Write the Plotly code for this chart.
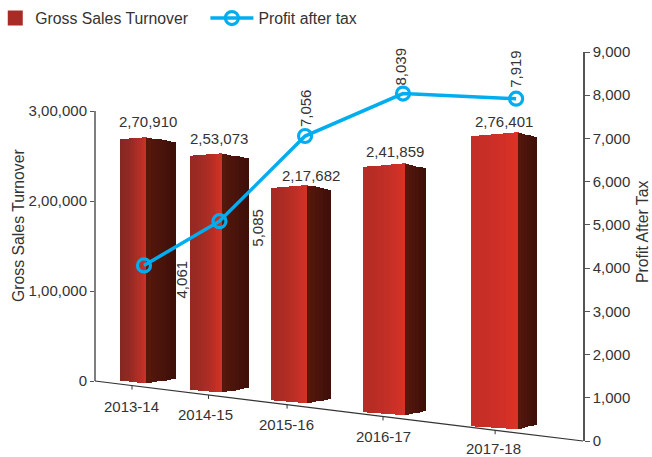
import plotly.graph_objects as go

# ---- data ----
years = ["2013-14", "2014-15", "2015-16", "2016-17", "2017-18"]
gross_sales = [270910, 253073, 217682, 241859, 276401]
profit_after_tax = [4061, 5085, 7056, 8039, 7919]
left_ticks = [0, 100000, 200000, 300000]
left_tick_text = ["0", "1,00,000", "2,00,000", "3,00,000"]
right_ticks = [0, 1000, 2000, 3000, 4000, 5000, 6000, 7000, 8000, 9000]

# ---- style ----
FONT = "Liberation Sans, Arial, sans-serif"
TXT = "#333333"
AXIS = "#555555"
BLUE = "#00aeef"
FS = 15
FS_BIG = 15.8

# ---- canvas and pseudo-3D scale ----
W, H = 652, 457
L, R, T, B = 95, 583, 52, 441          # plot rectangle in page pixels
Y0, Y300 = 381, 111                    # where 0 and 3,00,000 fall on the left axis
V_PER_PX = 300000 / (Y0 - Y300)
FLOOR_SLOPE = (B - Y0) / (R - L)


def depth_x(i):
    """Perspective position of the i-th category along the receding floor."""
    return 144 + 71 * i / (1 - 0.0592 * i)


def drop(px):
    """A vertical distance in page pixels, as left-axis units."""
    return px * V_PER_PX


def floor_value(x):
    return -drop(FLOOR_SLOPE * (x - L))


line_x = [depth_x(i) for i in range(len(years))]
ridge_x = [x + 2.5 for x in line_x]
front_w = [26 + 5.25 * i for i in range(len(years))]
side_w = [29.5 - 3 * i for i in range(len(years))]


def lerp(a, b, t):
    return a + (b - a) * t


def mix(c0, c1, t):
    return "rgb(%d,%d,%d)" % tuple(round(lerp(a, b, t)) for a, b in zip(c0, c1))


fig = go.Figure()

# front faces and side faces are stacks of thin bars, which gives the shading
N_FRONT, N_SIDE = 12, 6
for k in range(N_FRONT + N_SIDE):
    front = k < N_FRONT
    t = (k + 0.5) / N_FRONT if front else (k - N_FRONT + 0.5) / N_SIDE
    xs, widths, tops, bases, colors = [], [], [], [], []
    for i, v in enumerate(gross_sales):
        r = ridge_x[i]
        if front:
            w = front_w[i] / N_FRONT
            x = r - front_w[i] * (1 - t)
            top = v - drop((2 + 0.5 * i) * (1 - t))
            bot = floor_value(r) + drop(4) + drop(2.8 * (1 - t))
            p = i / 4
            c0 = (lerp(134, 196, p), lerp(40, 46, p), lerp(34, 38, p))
            c1 = (lerp(205, 220, p), lerp(50, 50, p), lerp(40, 40, p))
            col = mix(c0, c1, t ** 1.6)
        else:
            w = side_w[i] / N_SIDE
            x = r + side_w[i] * t
            top = v - drop(5.5 * t)
            bot = floor_value(r) + drop(4) + drop(4.5 * t)
            col = mix((88, 24, 12), (60, 15, 8), t)
        xs.append(x)
        widths.append(w + 0.8)
        tops.append(top)
        bases.append(bot)
        colors.append(col)
    fig.add_trace(go.Bar(
        x=xs, y=[a - b for a, b in zip(tops, bases)], base=bases, width=widths,
        marker=dict(color=colors, line=dict(width=0)),
        showlegend=False, hoverinfo="skip",
    ))

# legend entry for the bars
fig.add_trace(go.Bar(
    x=[None], y=[None], name="Gross Sales Turnover", legend="legend",
    marker=dict(color="#a92b26", line=dict(color="#a92b26", width=3)),
))

# profit line on the right axis
fig.add_trace(go.Scatter(
    x=line_x, y=profit_after_tax, yaxis="y2", name="Profit after tax", legend="legend2",
    mode="lines+markers",
    line=dict(color=BLUE, width=3.5),
    marker=dict(symbol="circle-open", size=13, color=BLUE, line=dict(color=BLUE, width=3.2)),
))

annotations = []


def indian(v):
    return f"{v // 100000},{(v % 100000) // 1000:02d},{v % 1000:03d}"


# bar value labels
bar_label_dx = [0, -1, 10, 0, 0]
bar_label_dy = [5, 4, -1, 1, 0]
bar_mid = [ridge_x[i] + (side_w[i] - front_w[i]) / 2 for i in range(5)]
for i, v in enumerate(gross_sales):
    annotations.append(dict(
        x=bar_mid[i], y=v, xref="x", yref="y", text=indian(v),
        showarrow=False, xshift=bar_label_dx[i], yshift=bar_label_dy[i], yanchor="bottom",
        font=dict(family=FONT, size=FS, color=TXT),
    ))

# rotated line labels
line_label_shift = [(37, -14), (38, -6), (0, 28), (-2, 27), (0, 30)]
for i, v in enumerate(profit_after_tax):
    dx, dy = line_label_shift[i]
    annotations.append(dict(
        x=line_x[i], y=v, xref="x", yref="y2", text=f"{v:,}", textangle=-90,
        showarrow=False, xshift=dx, yshift=dy,
        font=dict(family=FONT, size=FS, color=TXT),
    ))

# floor axis tick labels and ticks
tick_x = [x - d for x, d in zip(line_x, [12, 11, 18, 20, 21])]
label_dx = [-1, -3, -1, 0, -2]
label_dy = [20.5, 20, 20, 20, 18]
shapes = [
    dict(type="line", xref="paper", yref="y", x0=0, x1=0, y0=0, y1=300000,
         line=dict(color=AXIS, width=1.5), layer="below"),
    dict(type="line", xref="paper", yref="paper", x0=0, x1=1,
         y0=(B - Y0) / (B - T), y1=0, line=dict(color="#333333", width=1.2), layer="below"),
]
for i, y in enumerate(years):
    x = tick_x[i]
    fv = floor_value(x)
    shapes.append(dict(type="line", xref="x", yref="y", x0=x, x1=x, y0=fv, y1=fv - drop(4),
                       line=dict(color="#333333", width=1), layer="below"))
    annotations.append(dict(
        x=x, y=fv, xref="x", yref="y", text=y, showarrow=False, textangle=0, borderpad=0,
        xshift=label_dx[i], yshift=-label_dy[i],
        font=dict(family=FONT, size=FS, color=TXT),
    ))

# axis titles (page pixels converted to paper fractions)
for px, py, txt in [(18, 226, "Gross Sales Turnover"), (642, 232, "Profit After Tax")]:
    annotations.append(dict(
        x=(px - L) / (R - L), y=(B - py) / (B - T), xref="paper", yref="paper", text=txt,
        textangle=-90, showarrow=False, xanchor="center", yanchor="middle",
        font=dict(family=FONT, size=FS_BIG, color=TXT),
    ))

fig.update_layout(
    width=W, height=H, autosize=False,
    margin=dict(l=L, r=W - R, t=T, b=H - B, pad=0, autoexpand=False),
    paper_bgcolor="white", plot_bgcolor="white",
    barmode="overlay", bargap=0,
    font=dict(family=FONT, size=FS, color=TXT),
    xaxis=dict(range=[L, R], visible=False, fixedrange=True),
    yaxis=dict(
        range=[floor_value(R), (Y0 - T) * V_PER_PX],
        tickmode="array", tickvals=left_ticks, ticktext=left_tick_text,
        ticks="outside", ticklen=4, tickcolor=AXIS, tickwidth=1.2,
        showgrid=False, zeroline=False, showline=False, automargin=False,
        tickfont=dict(family=FONT, size=FS, color=TXT),
    ),
    yaxis2=dict(
        range=[0, 9000], overlaying="y", side="right",
        tickmode="array", tickvals=right_ticks, tickformat=",",
        ticks="outside", ticklen=5, tickcolor=AXIS, tickwidth=1.2,
        showgrid=False, zeroline=False, showline=True, linecolor=AXIS, linewidth=1.5,
        automargin=False,
        tickfont=dict(family=FONT, size=FS, color=TXT),
    ),
    legend=dict(orientation="h", xref="container", yref="container",
                x=0.005, y=0.96, xanchor="left", yanchor="middle", indentation=-8,
                font=dict(family=FONT, size=FS_BIG, color=TXT), bgcolor="rgba(0,0,0,0)",
                itemwidth=30),
    legend2=dict(orientation="h", xref="container", yref="container",
                 x=0.315, y=0.96, xanchor="left", yanchor="middle",
                 font=dict(family=FONT, size=FS_BIG, color=TXT), bgcolor="rgba(0,0,0,0)",
                 itemwidth=43),
    annotations=annotations,
    shapes=shapes,
)

fig.write_html("out.html", config={"displayModeBar": False},
               post_script="document.body.style.margin='0';document.body.style.overflow='hidden';")
